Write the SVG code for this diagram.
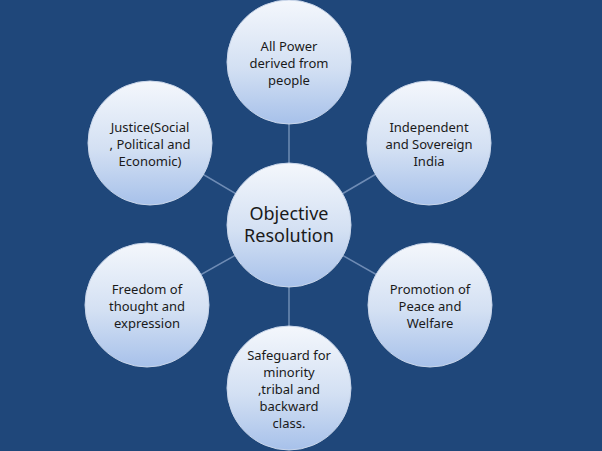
<svg xmlns="http://www.w3.org/2000/svg" width="602" height="451" viewBox="0 0 602 451">
<defs>
<linearGradient id="g" x1="0" y1="0" x2="0" y2="1">
<stop offset="0" stop-color="#f4f7fc"/>
<stop offset="0.55" stop-color="#d3e0f3"/>
<stop offset="1" stop-color="#a7c1ea"/>
</linearGradient>
<style>
circle{fill:url(#g);stroke:#c9d6ea;stroke-width:1}
text{font-family:"Noto Sans","Liberation Sans",sans-serif;font-size:13px;fill:#1a1a1a;text-anchor:middle}
.big{font-size:18px}
#connectors line{stroke:#6f8cb5;stroke-width:1.5}
</style>
</defs>
<rect width="602" height="451" fill="#1f477a"/>
<g id="connectors">
<line x1="289" y1="225" x2="289" y2="62"/>
<line x1="289" y1="225" x2="429" y2="143"/>
<line x1="289" y1="225" x2="150" y2="143"/>
<line x1="289" y1="225" x2="147" y2="305"/>
<line x1="289" y1="225" x2="430" y2="305"/>
<line x1="289" y1="225" x2="289" y2="388"/>
</g>
<g id="top"><circle cx="289" cy="62" r="62"/><text x="289" y="51">All Power</text><text x="289" y="68">derived from</text><text x="289" y="85">people</text></g>
<g id="rtop"><circle cx="429" cy="143" r="62"/><text x="429" y="132">Independent</text><text x="429" y="149">and Sovereign</text><text x="429" y="166">India</text></g>
<g id="ltop"><circle cx="150" cy="143" r="62"/><text x="150" y="132">Justice(Social</text><text x="150" y="149">, Political and</text><text x="150" y="166">Economic)</text></g>
<g id="lbot"><circle cx="147" cy="305" r="62"/><text x="147" y="294">Freedom of</text><text x="147" y="311">thought and</text><text x="147" y="328">expression</text></g>
<g id="rbot"><circle cx="430" cy="305" r="62"/><text x="430" y="294">Promotion of</text><text x="430" y="311">Peace and</text><text x="430" y="328">Welfare</text></g>
<g id="bot"><circle cx="289" cy="388" r="62"/><text x="289" y="360">Safeguard for</text><text x="289" y="377">minority</text><text x="289" y="394">,tribal and</text><text x="289" y="411">backward</text><text x="289" y="428">class.</text></g>
<g id="center"><circle cx="289" cy="225" r="62"/><text class="big" x="289" y="220">Objective</text><text class="big" x="289" y="242">Resolution</text></g>
</svg>
